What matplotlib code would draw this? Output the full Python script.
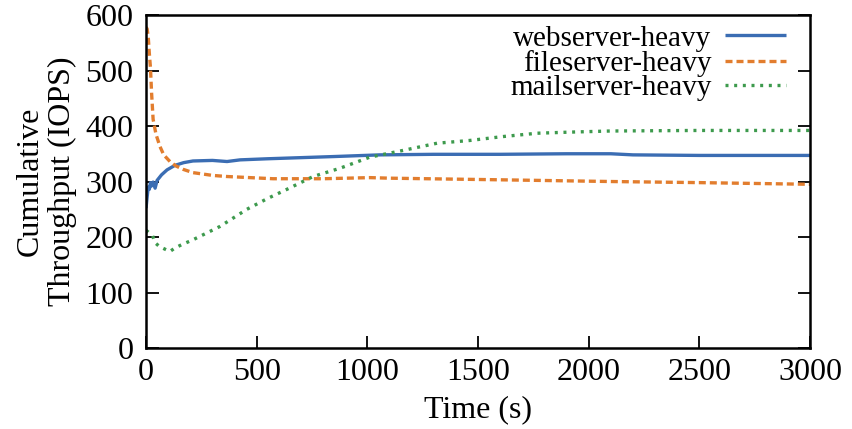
"""
Cumulative throughput over time for three workloads
"""

### imports
import numpy as np
import matplotlib
matplotlib.use('Agg')
import matplotlib.pyplot as plt

# data
web_t = [0, 5, 10, 15, 20, 25, 32, 41, 50, 70, 95, 130, 170, 212, 300, 366, 425, 550, 700, 850,
	1057, 1300, 1600, 1900, 2100, 2200, 2500, 3000]
web_y = [252, 272, 290, 286, 298, 292, 299, 288, 302, 312, 321, 329, 334, 337, 338, 336, 339, 341, 343, 345,
	348, 349, 349, 350, 350, 348, 347, 347]

file_t = [0, 5, 10, 15, 20, 25, 32, 45, 63, 80, 108, 135, 167, 212, 300, 366, 574, 800, 1012, 1100,
	1613, 2097, 2500, 3000]
file_y = [578, 575, 560, 530, 505, 460, 412, 385, 363, 348, 336, 328, 322, 316, 311, 309, 305, 305, 307, 306,
	303, 300, 298, 295]

mail_t = [0, 10, 30, 40, 60, 86, 108, 130, 160, 212, 334, 456, 547, 637, 755, 877, 1012, 1161, 1315,
	1464, 1613, 1767, 1916, 2097, 2500, 3000]
mail_y = [212, 209, 202, 190, 183, 178, 174, 180, 186, 195, 219, 250, 269, 286, 309, 324, 344, 356, 369,
	374, 381, 387, 389, 391, 392, 392]

labels = ['webserver-heavy', 'fileserver-heavy', 'mailserver-heavy']
colors = ['#3b6db3', '#e27d2e', '#3d9a4d']
xticks = [0, 500, 1000, 1500, 2000, 2500, 3000]
yticks = [0, 100, 200, 300, 400, 500, 600]

plt.rcParams['font.family'] = ['Liberation Serif', 'DejaVu Serif']

fig = plt.figure(figsize=(8.52, 4.29), dpi=100)
ax = fig.add_axes([0.1714, 0.1888, 0.7793, 0.7762])

ax.plot(web_t, web_y, color=colors[0], lw=2.4, label=labels[0], solid_capstyle='butt')
ax.plot(file_t, file_y, color=colors[1], lw=2.4, ls=(0, (2.1, 1.2)), label=labels[1])
ax.plot(mail_t, mail_y, color=colors[2], lw=2.4, ls=(0, (0.9, 1.7)), label=labels[2])

ax.set_xlim(0, 3000)
ax.set_ylim(0, 600)
ax.set_xticks(xticks)
ax.set_yticks(yticks)
ax.tick_params(direction='in', length=9, width=1.3, labelsize=23, right=True, top=False)
ax.tick_params(axis='x', pad=7)
ax.tick_params(axis='y', pad=9)
for s in ax.spines.values():
	s.set_linewidth(1.8)

ax.set_xlabel('Time (s)', fontsize=23, labelpad=6)
ax.set_ylabel('Cumulative\nThroughput (IOPS)', fontsize=23, linespacing=1.15, labelpad=6)

leg = ax.legend(loc='upper right', fontsize=21, frameon=False, markerfirst=False,
	handlelength=2.1, handletextpad=0.45, labelspacing=-0.06, borderaxespad=0.2,
	bbox_to_anchor=(0.99, 1.022))

fig.savefig('out.png', dpi=100)
